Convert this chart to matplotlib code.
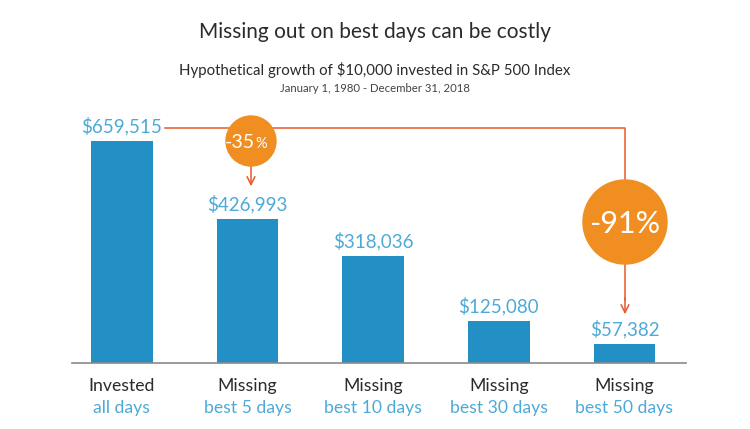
import matplotlib.pyplot as plt
from matplotlib.patches import Circle

# data
categories_top = ['Invested', 'Missing', 'Missing', 'Missing', 'Missing']
categories_bottom = ['all days', 'best 5 days', 'best 10 days', 'best 30 days', 'best 50 days']
values = [659515, 426993, 318036, 125080, 57382]
drops = ['-35%', '-91%']

bar_color = '#2390C5'
label_color = '#4DAAD8'
text_color = '#2b2b2b'
orange = '#F08E21'
red = '#E8582B'

plt.rcParams['font.family'] = ['Lato', 'DejaVu Sans']

W, H = 750, 429
fig = plt.figure(figsize=(7.5, 4.29), dpi=100)

# main bar axes: bottom at 363px, top at 100px, left 72, right 686
ax = fig.add_axes([72 / W, (H - 363) / H, (686 - 72) / W, (363 - 100) / H])
x = list(range(len(values)))
ax.bar(x, values, width=0.49, color=bar_color, zorder=2)
ax.set_xlim(-0.398, 4.49)
ax.set_ylim(0, 781300)
for s in ['top', 'right', 'left']:
    ax.spines[s].set_visible(False)
ax.spines['bottom'].set_color('#8a8a8a')
ax.spines['bottom'].set_linewidth(1.2)
ax.set_yticks([])
ax.set_xticks([])

for xi, v in zip(x, values):
    ax.annotate('${:,}'.format(v), (xi, v), xytext=(0, 4), textcoords='offset points',
                ha='center', va='bottom', fontsize=13.5, color=label_color)
    ax.annotate(categories_top[xi], (xi, 0), xytext=(0, -11), textcoords='offset points',
                ha='center', va='top', fontsize=12.7, color=text_color)
    ax.annotate(categories_bottom[xi], (xi, 0), xytext=(0, -27), textcoords='offset points',
                ha='center', va='top', fontsize=12.7, color=label_color)

# titles
fig.text(0.5, 1 - 32 / H, 'Missing out on best days can be costly', ha='center', va='center',
         fontsize=15, color=text_color)
fig.text(0.5, 1 - 70 / H, 'Hypothetical growth of $10,000 invested in S&P 500 Index', ha='center',
         va='center', fontsize=10.8, color=text_color)
fig.text(0.5, 1 - 88 / H, 'January 1, 1980 - December 31, 2018', ha='center', va='center',
         fontsize=8.2, color='#444444')

# overlay for callouts (pixel units)
ov = fig.add_axes([0, 0, 1, 1])
ov.set_xlim(0, W)
ov.set_ylim(H, 0)
ov.axis('off')
ov.patch.set_alpha(0)

ov.plot([165, 625, 625], [128, 128, 300], color=red, lw=1.1, zorder=1)
ov.annotate('', xy=(625, 317), xytext=(625, 295),
            arrowprops=dict(arrowstyle='->', color=red, lw=1.1, mutation_scale=14))
ov.annotate('', xy=(251, 189), xytext=(251, 160),
            arrowprops=dict(arrowstyle='->', color=red, lw=1.1, mutation_scale=14))

ov.add_patch(Circle((251, 141), 25, color=orange, zorder=3))
ov.text(255, 142, drops[0][:-1], ha='right', va='center', fontsize=14, color='white', zorder=4)
ov.text(255, 143.5, '%', ha='left', va='center', fontsize=10.5, color='white', zorder=4)
ov.add_patch(Circle((625, 222), 42, color=orange, zorder=3))
ov.text(625, 224, drops[1], ha='center', va='center', fontsize=22, color='white', zorder=4)

fig.savefig('out.png', dpi=100)
